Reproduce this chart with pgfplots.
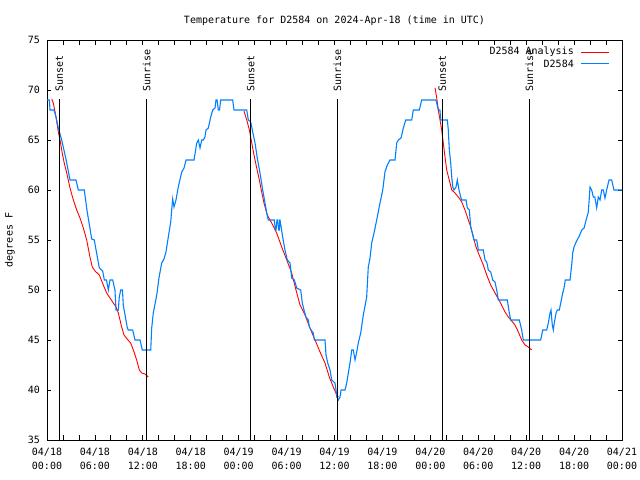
\documentclass[border=0pt]{standalone}
\usepackage{pgfplots}
\pgfplotsset{compat=1.18}
\usepackage{fontspec}
\setmainfont{DejaVu Sans Mono}
\definecolor{obsblue}{RGB}{0,128,255}
\definecolor{anared}{RGB}{255,0,0}
\begin{document}
\begin{tikzpicture}[font=\fontsize{10bp}{12bp}\selectfont]
\useasboundingbox (-47bp,-40bp) rectangle (593bp,440bp);
\begin{axis}[
  at={(0,0)}, anchor=south west,
  scale only axis, width=575bp, height=400bp,
  xmin=0, xmax=72, ymin=35, ymax=75,
  xtick={0,6,...,72}, minor x tick num=2,
  xticklabels={{04/18\\00:00},{04/18\\06:00},{04/18\\12:00},{04/18\\18:00},{04/19\\00:00},{04/19\\06:00},{04/19\\12:00},{04/19\\18:00},{04/20\\00:00},{04/20\\06:00},{04/20\\12:00},{04/20\\18:00},{04/21\\00:00}},
  xticklabel style={align=center, font=\fontsize{10bp}{13.5bp}\selectfont, yshift=-5bp},
  yticklabel style={xshift=-3.5bp},
  ytick={35,40,...,75},
  tick align=inside, xtick pos=both, ytick pos=both,
  xticklabel pos=lower, yticklabel pos=left,
  major tick length=4.5bp, minor tick length=4.5bp,
  tick style={black, line width=0.8bp},
  axis line style={line width=0.8bp},
  /pgf/number format/assume math mode=true,
  ylabel={degrees F},
  ylabel style={at={(axis description cs:-0.0643,0.5)}, anchor=center, rotate=0},
  title={Temperature for D2584 on 2024-Apr-18 (time in UTC)},
  title style={at={(axis description cs:0.5,1.033)}, anchor=center},
]
% Analysis (red)
\addplot[anared, line width=0.9bp] coordinates {
(0.59,69.1) (0.79,68.7) (1.13,67.3) (1.42,65.8) (1.63,65) (1.84,64) (2.13,62.8) (2.47,61.7) (2.88,60.2) (3.30,59) (3.72,58) (4.13,57.2) (4.55,56.2) (4.97,55) (5.38,53.3) (5.67,52.3) (6.01,51.9) (6.55,51.5) (7.05,50.5) (7.47,49.7) (7.89,49.2) (8.30,48.7) (8.64,48.3) (8.93,47.7) (9.35,46.3) (9.64,45.5) (10.06,45.07) (10.48,44.7) (10.90,43.8) (11.23,43) (11.56,42) (11.86,41.7) (12.27,41.6) (12.69,41.3)
};
\addplot[anared, line width=0.9bp] coordinates {
(24.67,67.9) (25.01,67) (25.34,66) (25.64,64.7) (25.92,63.5) (26.26,62.2) (26.59,61) (26.88,59.8) (27.17,58.7) (27.51,57.7) (27.71,57.3) (28.14,56.7) (28.76,55.7) (29.39,54.3) (30.02,53) (30.64,51.7) (31.18,50) (31.68,48.5) (32.31,47.5) (32.93,46.2) (33.56,45) (34.19,43.8) (34.81,42.7) (35.35,41.3) (35.85,40.3) (36.28,39.5) (36.48,39.3)
};
\addplot[anared, line width=0.9bp] coordinates {
(48.59,70.2) (48.80,69.2) (49.00,68) (49.21,67) (49.42,66) (49.62,64.7) (49.84,63.3) (50.05,62) (50.46,60.7) (50.68,60) (51.09,59.7) (51.51,59.3) (51.93,58.8) (52.34,58) (52.76,57) (53.06,56.3) (53.38,55.3) (53.72,54.3) (54.22,53.3) (54.63,52.5) (55.06,51.5) (55.56,50.5) (56.10,49.7) (56.73,48.8) (57.35,47.8) (57.76,47.3) (58.19,46.9) (58.60,46.5) (59.02,45.8) (59.44,45) (59.86,44.5) (60.27,44.3) (60.69,44)
};
% Observations (blue)
\addplot[obsblue, line width=1.1bp] coordinates {
(0,69) (0.3,69) (0.38,68) (0.88,68) (1.13,67.3) (1.42,66.2) (1.84,65) (2.4,63) (2.88,61) (3.63,61) (3.92,60) (4.67,60) (5.0,58) (5.60,55.1) (5.92,55) (6.55,52.2) (6.97,51.9) (7.18,51) (7.45,51) (7.68,50) (7.89,51) (8.23,51) (8.51,50) (8.64,48) (8.93,48) (9.05,49.3) (9.23,50) (9.45,50) (9.55,48.5) (10.06,46.2) (10.18,46) (10.73,46) (11.02,45) (11.65,45) (11.93,44) (12.99,44) (13.11,46.2) (13.31,47.7) (13.74,49.5) (14.02,51.2) (14.36,52.7) (14.65,53.1) (14.90,53.8) (15.19,55.3) (15.49,56.8) (15.69,58.7) (15.74,59.1) (15.90,58.3) (16.15,59) (16.44,60.3) (16.87,61.8) (17.16,62.2) (17.41,63) (18.41,63) (18.75,64.7) (18.95,65) (19.16,64.2) (19.37,65) (19.57,65) (19.78,65.3) (19.91,66) (20.20,66.2) (20.50,67.3) (20.75,68) (21.04,68.2) (21.16,69) (21.3,69) (21.45,68) (21.6,68) (21.75,69) (23.25,69) (23.42,68) (25.01,68) (25.21,67) (25.51,66.8) (25.76,65.8) (26.05,64.7) (26.33,63.2) (26.67,61.7) (27.01,60) (27.30,58.7) (27.51,57.7) (27.71,57) (28.46,57) (28.6,56) (28.68,56) (28.8,57) (28.89,57) (29.0,56) (29.09,56) (29.15,57) (29.18,57) (29.51,55.3) (29.80,54) (30.09,53) (30.43,52.7) (30.64,51.2) (30.97,51) (31.27,50.2) (31.77,50) (31.97,48.7) (32.18,48) (32.43,47.3) (32.72,47) (32.85,46.3) (33.15,45.9) (33.35,45.7) (33.47,45) (34.81,45) (34.94,43.5) (35.15,42.7) (35.44,42) (35.65,41) (36.06,40.7) (36.19,40) (36.28,39.3) (36.48,39) (36.69,39.3) (36.82,40) (37.32,40) (37.53,40.7) (37.73,41.7) (37.94,42.7) (38.16,44) (38.36,44) (38.57,43) (38.78,43.8) (38.98,44.7) (39.28,45.7) (39.61,47.5) (40.03,49.3) (40.23,52.3) (40.45,53.2) (40.66,54.7) (40.95,55.7) (41.28,57) (41.70,58.7) (42.04,60) (42.32,61.8) (42.61,62.5) (42.95,63) (43.58,63) (43.79,64.7) (43.99,65) (44.33,65.2) (44.62,66.2) (44.92,67) (45.67,67) (45.87,68) (46.62,68) (46.92,69) (48.71,69) (49.00,68) (49.2,68) (49.30,67) (50.13,67) (50.25,66) (50.38,64) (50.55,62.7) (50.68,61.3) (50.81,60.3) (50.96,60) (51.22,60.3) (51.38,61) (51.59,60) (51.80,59.3) (51.93,59) (52.47,59) (52.63,58.2) (52.88,58) (53.06,56.3) (53.26,55.7) (53.47,55) (53.81,55) (54.01,54) (54.63,54) (54.85,53) (55.06,52.8) (55.26,52) (55.56,51.8) (55.81,51) (56.10,50.8) (56.31,50) (56.51,49) (57.64,49) (57.89,47.7) (58.06,47) (59.14,47) (59.44,46) (59.64,45) (61.82,45) (62.07,46) (62.57,46) (62.77,46.7) (62.99,47.7) (63.11,48) (63.27,46.5) (63.40,46) (63.52,46.7) (63.74,47.7) (63.90,48) (64.15,48) (64.33,48.7) (64.58,49.7) (64.74,50.2) (64.90,51) (65.49,51) (65.70,52.5) (65.83,53.7) (65.99,54.3) (66.20,54.7) (66.45,55.1) (66.66,55.4) (66.96,56) (67.25,56.2) (67.41,56.7) (67.58,57.2) (67.78,57.8) (68.00,60.3) (68.2,60) (68.41,59.3) (68.6,59.3) (68.83,58.2) (69.03,59.3) (69.25,59) (69.46,60) (69.66,60) (69.87,59.2) (70.08,60) (70.37,61) (70.71,61) (70.99,60) (72,60)
};
% Sunset / sunrise markers
\addplot[black, line width=0.9bp] coordinates {(1.54,35) (1.54,69.1)};
\addplot[black, line width=0.9bp] coordinates {(12.48,35) (12.48,69.1)};
\addplot[black, line width=0.9bp] coordinates {(25.51,35) (25.51,69.1)};
\addplot[black, line width=0.9bp] coordinates {(36.35,35) (36.35,69.1)};
\addplot[black, line width=0.9bp] coordinates {(49.50,35) (49.50,69.1)};
\addplot[black, line width=0.9bp] coordinates {(60.40,35) (60.40,69.1)};
\node[rotate=90, anchor=west, inner sep=0pt] at (axis cs:1.54,69.8) {Sunset};
\node[rotate=90, anchor=west, inner sep=0pt] at (axis cs:12.48,69.8) {Sunrise};
\node[rotate=90, anchor=west, inner sep=0pt] at (axis cs:25.51,69.8) {Sunset};
\node[rotate=90, anchor=west, inner sep=0pt] at (axis cs:36.35,69.8) {Sunrise};
\node[rotate=90, anchor=west, inner sep=0pt] at (axis cs:49.50,69.8) {Sunset};
\node[rotate=90, anchor=west, inner sep=0pt] at (axis cs:60.40,69.8) {Sunrise};
% Legend
\node[anchor=east, inner sep=0pt] at (axis description cs:0.9165,0.9695) {D2584 Analysis};
\node[anchor=east, inner sep=0pt] at (axis description cs:0.9165,0.9405) {D2584};
\draw[anared, line width=1bp] (axis description cs:0.9287,0.9695) -- (axis description cs:0.9774,0.9695);
\draw[obsblue, line width=1.1bp] (axis description cs:0.9287,0.9405) -- (axis description cs:0.9774,0.9405);
\end{axis}
\end{tikzpicture}
\end{document}
